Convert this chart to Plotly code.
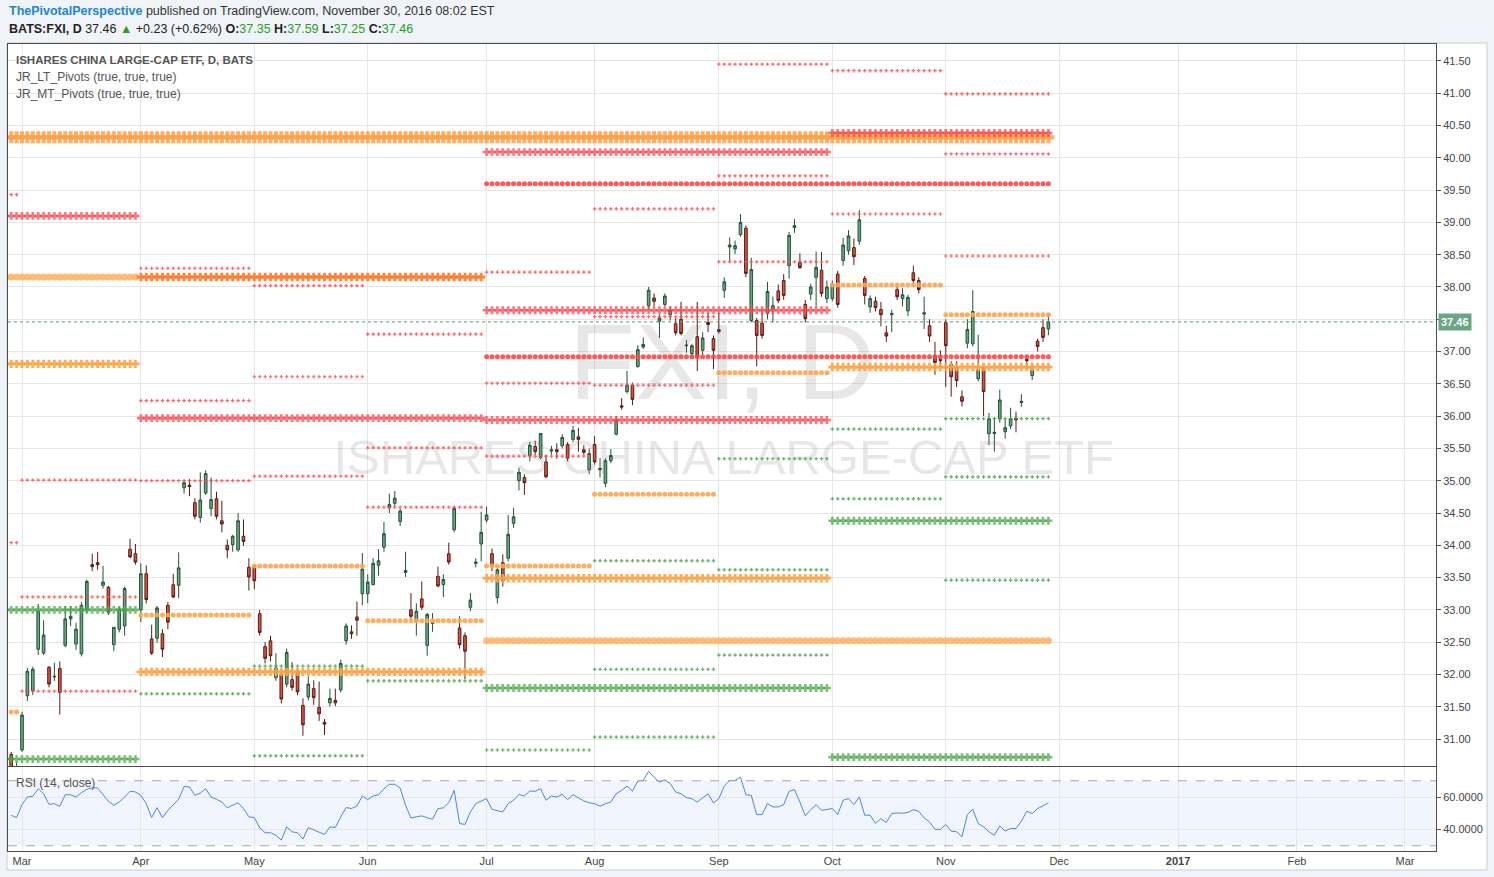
import plotly.graph_objects as go

# ---------------- data ----------------
# bar index 0 = 2016-02-26 ... 192 = 2016-11-29 (trading days, TradingView compresses weekends)
opens = [30.76, 30.45, 30.83, 31.67, 31.75, 32.39, 32.33, 32.11, 31.96, 32.09,
         32.45, 32.86, 32.47, 32.32, 33.00, 33.70, 33.73, 33.38, 33.35, 32.46,
         32.70, 32.75, 33.94, 33.87, 33.00, 33.56, 32.55, 32.56, 32.63, 33.07,
         33.39, 33.38, 34.89, 34.93, 34.66, 34.43, 34.81, 34.57, 34.72, 34.38,
         34.00, 34.01, 33.93, 34.14, 33.66, 33.67, 32.94, 32.43, 32.52, 31.95,
         32.00, 31.85, 31.92, 32.04, 31.52, 31.65, 31.78, 31.49, 31.26, 31.56,
         31.60, 31.76, 32.52, 32.66, 32.89, 33.25, 33.25, 33.39, 33.69, 33.97,
         34.58, 34.65, 34.37, 33.58, 33.00, 32.83, 33.17, 32.45, 32.79, 33.52,
         33.39, 33.87, 34.24, 32.72, 32.60, 33.04, 33.72, 34.02, 34.39, 33.87,
         33.19, 33.73, 33.80, 34.34, 35.00, 35.05, 35.39, 35.53, 35.36, 35.29,
         35.46, 35.48, 35.54, 35.56, 35.64, 35.68, 35.48, 35.17, 35.56, 35.17,
         34.96, 35.31, 35.72, 36.16, 36.38, 36.48, 36.77, 37.07, 37.71, 37.83,
         37.47, 37.73, 37.57, 37.43, 37.50, 37.09, 36.97, 37.23, 37.02, 37.45,
         37.20, 37.34, 37.95, 38.62, 38.59, 38.81, 38.91, 37.48, 37.48, 37.44,
         37.59, 37.66, 37.94, 38.10, 38.33, 38.92, 38.38, 37.73, 37.89, 38.15,
         38.26, 37.82, 37.82, 38.20, 38.41, 38.56, 38.61, 38.71, 38.13, 37.69,
         37.78, 37.65, 37.29, 37.57, 37.96, 37.82, 37.63, 38.22, 38.10, 37.58,
         37.40, 36.94, 36.88, 37.45, 36.80, 36.76, 36.30, 37.13, 37.12, 36.58,
         36.74, 35.73, 35.73, 35.96, 35.76, 35.85, 35.97, 36.21, 36.88, 36.63,
         37.16, 37.37, 37.35]
highs = [30.80, 30.64, 31.42, 32.10, 32.12, 33.09, 32.84, 32.13, 32.18, 32.20,
         33.06, 33.06, 32.80, 33.12, 33.47, 33.87, 33.90, 33.68, 33.37, 32.73,
         33.05, 33.36, 34.10, 34.02, 33.72, 33.69, 32.77, 33.06, 32.70, 33.12,
         33.56, 33.89, 35.00, 35.03, 34.73, 35.13, 35.16, 35.05, 34.83, 34.69,
         34.09, 34.16, 34.50, 34.40, 33.80, 33.70, 33.00, 32.50, 32.60, 32.33,
         32.05, 32.40, 32.19, 32.08, 31.63, 31.97, 31.91, 31.89, 31.31, 31.78,
         31.78, 32.23, 32.79, 32.76, 33.13, 33.88, 33.55, 33.80, 33.94, 34.36,
         34.80, 34.84, 34.57, 33.90, 33.26, 33.10, 33.44, 32.95, 32.95, 33.67,
         33.55, 34.04, 34.60, 32.90, 32.65, 33.26, 33.80, 34.52, 34.60, 33.95,
         33.65, 33.86, 34.47, 34.58, 35.20, 35.10, 35.60, 35.62, 35.74, 35.40,
         35.54, 35.58, 35.72, 35.60, 35.85, 35.82, 35.55, 35.50, 35.69, 35.35,
         35.35, 35.49, 36.00, 36.28, 36.70, 36.52, 37.10, 37.22, 38.00, 37.90,
         37.58, 37.90, 37.70, 37.52, 37.77, 37.18, 37.12, 37.77, 37.30, 37.60,
         37.25, 37.60, 38.15, 38.77, 38.72, 39.13, 38.95, 38.45, 37.52, 37.66,
         38.08, 37.85, 38.04, 38.20, 38.85, 39.05, 38.52, 37.80, 38.05, 38.55,
         38.54, 38.10, 38.10, 38.25, 38.76, 38.88, 38.75, 39.19, 38.17, 37.87,
         37.85, 37.77, 37.40, 37.65, 38.05, 37.98, 37.88, 38.33, 38.15, 37.85,
         37.50, 37.15, 37.02, 37.50, 36.85, 36.85, 36.40, 37.50, 37.95, 37.26,
         36.78, 36.05, 35.98, 36.41, 35.95, 36.13, 36.07, 36.34, 36.94, 36.80,
         37.20, 37.50, 37.59]
lows = [30.40, 30.30, 30.80, 31.59, 31.68, 32.30, 32.30, 31.80, 31.90, 31.38,
        32.42, 32.75, 32.38, 32.28, 32.95, 33.60, 33.62, 33.33, 32.92, 32.36,
        32.65, 32.60, 33.80, 33.70, 32.81, 33.10, 32.30, 32.49, 32.27, 32.70,
        33.18, 33.18, 34.80, 34.76, 34.40, 34.35, 34.78, 34.45, 34.40, 34.20,
        33.80, 33.90, 33.90, 33.99, 33.30, 33.32, 32.60, 32.17, 32.20, 31.90,
        31.55, 31.80, 31.75, 31.68, 31.05, 31.60, 31.53, 31.28, 31.06, 31.50,
        31.51, 31.72, 32.46, 32.55, 32.60, 33.07, 33.10, 33.38, 33.53, 33.90,
        34.50, 34.60, 34.30, 33.51, 32.85, 32.60, 33.00, 32.29, 32.66, 33.35,
        33.20, 33.70, 34.20, 32.40, 31.93, 32.98, 33.66, 33.75, 34.35, 33.60,
        33.10, 33.36, 33.75, 34.27, 34.85, 34.78, 35.30, 35.40, 35.33, 35.04,
        35.40, 35.34, 35.50, 35.30, 35.60, 35.45, 35.40, 35.10, 35.25, 35.05,
        34.90, 35.27, 35.70, 36.10, 36.35, 36.17, 36.75, 37.04, 37.65, 37.70,
        37.21, 37.70, 37.48, 37.25, 37.25, 36.98, 36.90, 36.70, 36.95, 37.30,
        36.73, 37.28, 37.83, 38.39, 38.51, 38.78, 38.15, 37.45, 36.77, 37.20,
        37.50, 37.45, 37.75, 37.80, 38.13, 38.84, 38.28, 37.45, 37.80, 37.70,
        37.85, 37.75, 37.78, 37.68, 38.33, 38.50, 38.34, 38.65, 37.73, 37.60,
        37.62, 37.39, 37.15, 37.30, 37.80, 37.70, 37.55, 38.05, 37.90, 37.35,
        37.15, 36.64, 36.74, 36.45, 36.30, 36.45, 36.15, 37.05, 37.08, 36.54,
        36.00, 35.55, 35.45, 35.90, 35.65, 35.80, 35.75, 36.14, 36.73, 36.56,
        37.00, 37.15, 37.25]
closes = [30.48, 30.55, 31.37, 32.05, 32.08, 32.98, 32.61, 31.85, 31.97, 31.72,
          32.86, 32.90, 32.70, 33.07, 33.44, 33.67, 33.70, 33.43, 32.96, 32.73,
          33.01, 33.33, 33.82, 33.74, 33.56, 33.16, 32.33, 33.03, 32.39, 32.81,
          33.20, 33.65, 34.97, 34.91, 34.45, 34.70, 35.11, 34.71, 34.45, 34.33,
          33.93, 34.14, 34.38, 34.06, 33.51, 33.45, 32.65, 32.25, 32.29, 32.10,
          31.62, 32.34, 31.80, 31.73, 31.22, 31.85, 31.64, 31.39, 31.23, 31.63,
          31.56, 32.17, 32.75, 32.63, 32.84, 33.63, 33.43, 33.72, 33.76, 34.18,
          34.63, 34.73, 34.53, 33.61, 32.90, 32.98, 33.04, 32.93, 32.81, 33.37,
          33.47, 33.74, 34.57, 32.46, 32.36, 33.15, 33.74, 34.20, 34.47, 33.68,
          33.62, 33.45, 34.17, 34.44, 35.13, 34.97, 35.55, 35.45, 35.73, 35.06,
          35.48, 35.45, 35.67, 35.35, 35.78, 35.64, 35.44, 35.42, 35.29, 35.19,
          35.31, 35.39, 35.94, 36.14, 36.48, 36.26, 37.03, 37.11, 37.95, 37.78,
          37.52, 37.86, 37.64, 37.29, 37.28, 37.10, 37.09, 36.92, 37.21, 37.42,
          37.02, 37.31, 38.08, 38.65, 38.64, 39.00, 38.21, 38.27, 37.25, 37.25,
          37.93, 37.71, 37.79, 37.87, 38.80, 38.95, 38.30, 37.51, 38.00, 38.30,
          37.90, 38.00, 38.04, 37.73, 38.65, 38.79, 38.47, 39.04, 37.87, 37.82,
          37.68, 37.57, 37.24, 37.59, 37.85, 37.88, 37.84, 38.10, 37.96, 37.60,
          37.24, 36.83, 36.86, 37.09, 36.61, 36.55, 36.23, 37.34, 37.62, 36.72,
          36.38, 35.96, 35.75, 36.25, 35.82, 35.96, 35.94, 36.23, 36.86, 36.72,
          37.08, 37.22, 37.46]
rsi_values = [48.8, 47.3, 55.3, 60.0, 60.4, 65.1, 62.0, 55.5, 55.9, 54.3,
              61.4, 61.4, 60.0, 62.7, 64.7, 65.7, 65.5, 61.6, 57.3, 54.9,
              56.9, 60.0, 63.5, 63.1, 61.0, 55.9, 47.3, 53.5, 47.3, 51.8,
              54.9, 58.6, 66.5, 66.1, 61.0, 62.4, 65.1, 60.0, 58.6, 56.9,
              53.3, 54.9, 56.5, 52.9, 47.8, 47.3, 41.0, 38.0, 38.0, 36.5,
              33.5, 41.6, 38.6, 38.0, 34.1, 41.2, 39.6, 38.0, 36.9, 41.6,
              41.2, 47.8, 53.5, 52.9, 54.5, 60.6, 58.4, 60.6, 61.4, 65.1,
              67.8, 67.8, 65.5, 54.9, 47.1, 47.8, 48.4, 47.3, 46.3, 52.9,
              53.3, 56.5, 64.1, 43.7, 43.1, 50.8, 55.9, 57.5, 59.0, 52.4,
              51.5, 50.8, 55.9, 58.0, 61.6, 60.6, 63.7, 63.5, 65.1, 58.0,
              60.6, 60.0, 61.6, 58.4, 61.4, 59.6, 57.6, 56.5, 55.9, 54.3,
              55.9, 56.9, 62.0, 64.1, 66.7, 63.7, 69.8, 70.2, 75.7, 72.2,
              69.2, 70.6, 68.2, 63.1, 62.0, 59.6, 59.0, 56.9, 59.6, 62.0,
              56.3, 59.0, 66.7, 70.2, 70.2, 72.2, 61.4, 61.0, 49.2, 49.2,
              55.9, 53.9, 53.9, 55.3, 63.5, 64.5, 56.9, 48.4, 52.2, 55.3,
              51.8, 52.2, 52.9, 49.2, 58.0, 59.0, 55.3, 60.0, 48.8, 48.8,
              43.7, 46.7, 44.3, 49.8, 50.2, 50.0, 50.5, 52.2, 51.2, 47.1,
              44.7, 40.2, 40.0, 43.1, 39.0, 38.6, 35.5, 49.2, 52.4, 43.7,
              41.6, 38.6, 36.5, 42.2, 39.0, 40.6, 40.6, 45.1, 51.2, 49.8,
              52.9, 54.5, 56.5]
bar_index = list(range(len(closes)))

month_tick_bars = [2, 24, 45, 66, 88, 108, 131, 152, 173, 194, 216, 238, 258]
month_labels = ["Mar", "Apr", "May", "Jun", "Jul", "Aug", "Sep", "Oct", "Nov",
                "Dec", "<b>2017</b>", "Feb", "Mar"]
price_ticks = [31.0, 31.5, 32.0, 32.5, 33.0, 33.5, 34.0, 34.5, 35.0, 35.5, 36.0,
               36.5, 37.0, 37.5, 38.0, 38.5, 39.0, 39.5, 40.0, 40.5, 41.0, 41.5]
rsi_ticks = [40, 60]
rsi_labels = ["40.0000", "60.0000"]
last_close = 37.46

# pivot segments: first bar, last bar, level, style kind
piv_start = [0, 0, 0,
             2, 2, 2,
             24, 24, 24, 24, 24,
             45, 45, 45, 45, 45, 45,
             66, 66, 66, 66, 66,
             88, 88, 88, 88, 88,
             108, 108, 108, 108, 108, 108, 108,
             131, 131, 131, 131, 131, 131, 131,
             152, 152, 152, 152, 152,
             173, 173, 173, 173, 173, 173, 173,
             -1,
             -1, -1, -1, -1, -1,
             24, 24, 24,
             88, 88, 88, 88, 88,
             88, 88, 88,
             152, 152, 152, 152]
piv_end = [1, 1, 1,
           23, 23, 23,
           44, 44, 44, 44, 44,
           65, 65, 65, 65, 65, 65,
           87, 87, 87, 87, 87,
           107, 107, 107, 107, 107,
           130, 130, 130, 130, 130, 130, 130,
           151, 151, 151, 151, 151, 151, 151,
           172, 172, 172, 172, 172,
           192, 192, 192, 192, 192, 192, 192,
           192,
           23, 23, 23, 23, 23,
           87, 87, 87,
           151, 151, 151, 151, 151,
           192, 192, 192,
           192, 192, 192, 192]
piv_level = [39.43, 34.04, 31.42,
             35.01, 33.20, 31.74,
             38.29, 36.24, 35.00, 32.92, 31.70,
             38.02, 36.61, 35.07, 33.68, 32.13, 30.74,
             37.27, 35.51, 34.59, 32.83, 31.90,
             38.23, 36.51, 35.38, 33.68, 30.83,
             39.21, 37.54, 36.48, 34.79, 33.76, 32.08, 31.03,
             41.45, 39.72, 38.39, 36.67, 35.34, 33.62, 32.30,
             41.35, 39.13, 38.03, 35.80, 34.72,
             40.99, 40.06, 38.48, 37.57, 35.96, 35.06, 33.46,
             40.32,
             39.10, 36.81, 33.00, 30.69, 38.155,
             35.97, 38.155, 32.04,
             40.09, 37.64, 35.94, 33.49, 31.79,
             32.52, 39.60, 36.92,
             40.385, 36.76, 34.38, 30.72]
piv_kind = ["red_sd", "red_sd", "orange_mc",
            "red_sd", "red_sd", "red_sd",
            "red_sd", "red_sd", "red_sd", "orange_mc", "green_sd",
            "red_sd", "red_sd", "red_sd", "orange_mc", "green_sd", "green_sd",
            "red_sd", "red_sd", "red_sd", "orange_mc", "green_sd",
            "red_sd", "red_sd", "red_sd", "orange_mc", "green_sd",
            "red_sd", "red_sd", "red_sd", "orange_mc", "green_sd", "green_sd", "green_sd",
            "red_sd", "red_sd", "red_sd", "orange_mc", "green_sd", "green_sd", "green_sd",
            "red_sd", "red_sd", "orange_mc", "green_sd", "green_sd",
            "red_sd", "red_sd", "red_sd", "orange_mc", "green_sd", "green_sd", "green_sd",
            "orange_xl",
            "red_lx", "orange_lx", "green_lx", "green_lx", "orange_lc",
            "red_lx", "dorange_lx", "orange_lx",
            "red_lx", "red_lx", "red_lx", "orange_lx", "green_lx",
            "orange_lc", "red_mc", "red_mc",
            "red_lx", "orange_lx", "green_lx", "green_lx"]

# ---------------- styles ----------------
kind_style = {
    "orange_xl": ("cross", 10, "rgba(255,160,70,0.85)"),
    "orange_lc": ("circle", 7, "rgba(255,176,95,0.85)"),
    "orange_lx": ("cross", 7, "rgba(255,162,70,0.9)"),
    "dorange_lx": ("cross", 7, "rgba(255,120,40,0.9)"),
    "red_lx": ("cross", 6.5, "rgba(255,70,80,0.75)"),
    "green_lx": ("cross", 6.5, "rgba(76,170,76,0.75)"),
    "red_mc": ("circle", 5, "rgba(255,70,70,0.9)"),
    "orange_mc": ("circle", 5, "rgba(255,165,80,0.9)"),
    "red_sd": ("cross", 3, "rgba(255,70,70,0.8)"),
    "green_sd": ("cross", 3, "rgba(60,160,60,0.8)"),
}
kind_order = ["orange_xl", "orange_lc", "red_mc", "orange_mc", "red_sd", "green_sd",
              "orange_lx", "dorange_lx", "red_lx", "green_lx"]

W, H = 1494, 877
X_LEFT, X_RIGHT = 8, 1436
MAIN_TOP, MAIN_BOT = 44, 766
RSI_TOP, RSI_BOT = 767, 851
x_range = [-0.592, 263.75]
y_range = [30.582, 41.763]
rsi_range = [26.77, 78.46]

FONT_AX = "Liberation Sans Narrow, Arial Narrow, Liberation Sans, Arial, sans-serif"
FONT_TXT = "Liberation Sans, Arial, sans-serif"

fig = go.Figure()

# watermark (drawn first so it sits behind everything)
fig.add_trace(go.Scatter(
    x=[131.6, 131.9], y=[36.68, 35.30], mode="text",
    text=["FXI, D", "ISHARES CHINA LARGE-CAP ETF"],
    textfont=dict(size=[108, 49], color="rgba(110,110,110,0.17)", family=FONT_TXT),
    hoverinfo="skip", showlegend=False, xaxis="x", yaxis="y"))

# pivots
for kind in kind_order:
    xs, ys = [], []
    for s, e, lv, k in zip(piv_start, piv_end, piv_level, piv_kind):
        if k != kind:
            continue
        for b in range(s, e + 1):
            xs.append(b)
            ys.append(lv)
    sym, size, col = kind_style[kind]
    fig.add_trace(go.Scatter(
        x=xs, y=ys, mode="markers",
        marker=dict(symbol=sym, size=size, color=col, line=dict(width=0)),
        hoverinfo="skip", showlegend=False, xaxis="x", yaxis="y"))

# candles
fig.add_trace(go.Candlestick(
    x=bar_index, open=opens, high=highs, low=lows, close=closes,
    increasing=dict(fillcolor="#6ba583", line=dict(color="#225437", width=1)),
    decreasing=dict(fillcolor="#d75442", line=dict(color="#5b1a13", width=1)),
    whiskerwidth=0, showlegend=False, xaxis="x", yaxis="y"))

# RSI
fig.add_trace(go.Scatter(
    x=bar_index, y=rsi_values, mode="lines",
    line=dict(color="#4a86e8", width=1),
    hoverinfo="skip", showlegend=False, xaxis="x2", yaxis="y2"))

axis_common = dict(showline=True, linecolor="#4d4d4d", linewidth=1, mirror=True,
                   zeroline=False, showgrid=True, gridcolor="#e6e6e6", gridwidth=1)

fig.update_layout(
    width=W, height=H,
    margin=dict(l=0, r=0, t=0, b=0),
    paper_bgcolor="#f0f3f7", plot_bgcolor="#ffffff",
    showlegend=False,
    xaxis=dict(domain=[X_LEFT / W, X_RIGHT / W], range=x_range, anchor="y",
               tickmode="array", tickvals=month_tick_bars, ticktext=month_labels,
               showticklabels=False, ticks="", rangeslider=dict(visible=False),
               **axis_common),
    yaxis=dict(domain=[1 - MAIN_BOT / H, 1 - MAIN_TOP / H], range=y_range, anchor="x",
               side="right", tickmode="array", tickvals=price_ticks,
               ticktext=["%.2f" % v for v in price_ticks],
               ticks="outside", ticklen=4, tickcolor="#555555",
               tickfont=dict(family=FONT_AX, size=11, color="#444444"),
               **axis_common),
    xaxis2=dict(domain=[X_LEFT / W, X_RIGHT / W], range=x_range, anchor="y2",
                tickmode="array", tickvals=month_tick_bars, ticktext=month_labels,
                ticks="", tickfont=dict(family=FONT_AX, size=11, color="#444444"),
                **axis_common),
    yaxis2=dict(domain=[1 - RSI_BOT / H, 1 - RSI_TOP / H], range=rsi_range, anchor="x2",
                side="right", tickmode="array", tickvals=rsi_ticks, ticktext=rsi_labels,
                ticks="outside", ticklen=4, tickcolor="#555555",
                tickfont=dict(family=FONT_AX, size=11, color="#444444"),
                **axis_common),
)

shapes = [
    # white chart card
    dict(type="rect", xref="paper", yref="paper", x0=7 / W, x1=1487 / W,
         y0=1 - 870 / H, y1=1 - 43 / H, fillcolor="#ffffff",
         line=dict(color="#c9ccd0", width=1), layer="below"),
    # RSI band 30-70
    dict(type="rect", xref="x2 domain", yref="y2", x0=0, x1=1, y0=30, y1=70,
         fillcolor="rgba(66,133,244,0.08)", line=dict(width=0), layer="below"),
    dict(type="line", xref="x2 domain", yref="y2", x0=0, x1=1, y0=70, y1=70,
         line=dict(color="#a8a8a8", width=1, dash="dash")),
    dict(type="line", xref="x2 domain", yref="y2", x0=0, x1=1, y0=30, y1=30,
         line=dict(color="#a8a8a8", width=1, dash="dash")),
    # last price line
    dict(type="line", xref="x domain", yref="y", x0=0, x1=1, y0=last_close, y1=last_close,
         line=dict(color="#5f9a78", width=1, dash="dot")),
]
fig.update_layout(shapes=shapes)

green_txt = "#1fa31f"
annotations = [
    dict(xref="paper", yref="paper", x=7 / W, y=1 - 11 / H, xanchor="left", yanchor="middle",
         showarrow=False, align="left",
         text="<span style='color:#2185d0'><b>ThePivotalPerspective</b></span>"
              " published on TradingView.com, November 30, 2016 08:02 EST",
         font=dict(family=FONT_TXT, size=12.5, color="#333333")),
    dict(xref="paper", yref="paper", x=7 / W, y=1 - 29 / H, xanchor="left", yanchor="middle",
         showarrow=False, align="left",
         text="<b>BATS:FXI, D</b> 37.46 <span style='color:%s'>▲</span> +0.23 (+0.62%%) "
              "<b>O:</b><span style='color:%s'>37.35</span> <b>H:</b><span style='color:%s'>37.59</span> "
              "<b>L:</b><span style='color:%s'>37.25</span> <b>C:</b><span style='color:%s'>37.46</span>"
              % (green_txt, green_txt, green_txt, green_txt, green_txt),
         font=dict(family=FONT_AX, size=12.5, color="#222222")),
    dict(xref="paper", yref="paper", x=14 / W, y=1 - 60 / H, xanchor="left", yanchor="middle",
         showarrow=False, text="<b>ISHARES CHINA LARGE-CAP ETF, D, BATS</b>",
         font=dict(family=FONT_AX, size=11.5, color="#555555")),
    dict(xref="paper", yref="paper", x=14 / W, y=1 - 77 / H, xanchor="left", yanchor="middle",
         showarrow=False, text="JR_LT_Pivots (true, true, true)",
         font=dict(family=FONT_AX, size=12, color="#555555")),
    dict(xref="paper", yref="paper", x=14 / W, y=1 - 94 / H, xanchor="left", yanchor="middle",
         showarrow=False, text="JR_MT_Pivots (true, true, true)",
         font=dict(family=FONT_AX, size=12, color="#555555")),
    dict(xref="paper", yref="paper", x=14 / W, y=1 - 783 / H, xanchor="left", yanchor="middle",
         showarrow=False, text="RSI (14, close)",
         font=dict(family=FONT_AX, size=12, color="#555555")),
    dict(xref="paper", yref="y", x=1438 / W, y=last_close, xanchor="left", yanchor="middle",
         showarrow=False, text="<b>%.2f</b>" % last_close, bgcolor="#6ba583",
         borderpad=2, font=dict(family=FONT_AX, size=11, color="#ffffff")),
]
fig.update_layout(annotations=annotations)

fig.write_html(
    "out.html",
    config={"displayModeBar": False},
    post_script="document.body.style.margin='0';document.body.style.padding='0';"
                "document.body.style.overflow='hidden';"
                "document.body.style.background='#f0f3f7';")
